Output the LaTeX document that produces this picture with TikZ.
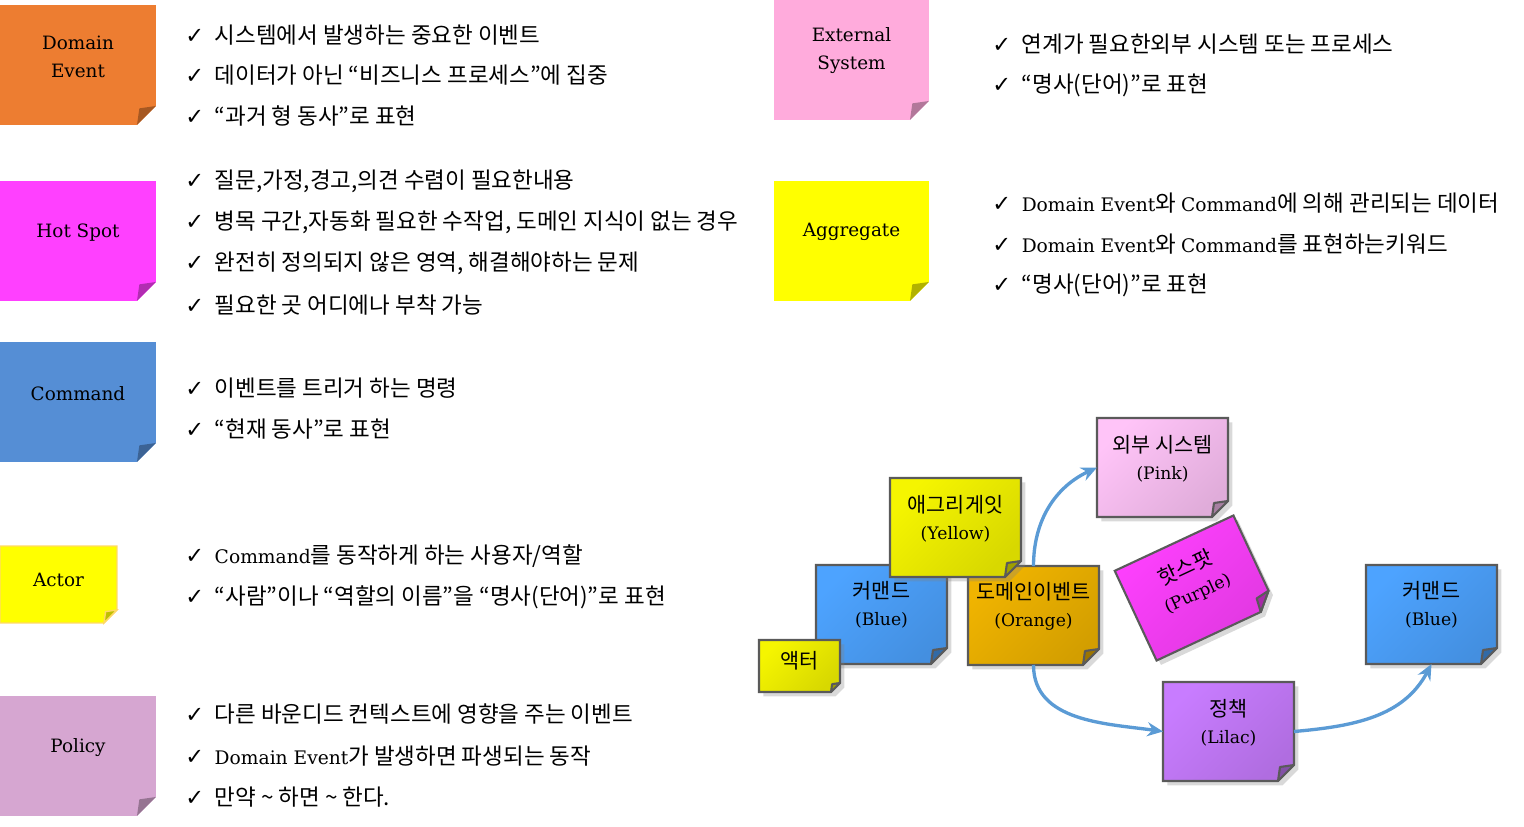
\documentclass[tikz,border=0pt]{standalone}
\usepackage{fontspec}
\setmainfont{Noto Sans CJK KR}
\newfontfamily\en[Scale=0.83]{DejaVu Serif}
\newfontfamily\sym{DejaVu Sans}
\usetikzlibrary{arrows.meta, positioning, calc, shadows}
\definecolor{deorange}{RGB}{237, 125, 49}
\definecolor{hotmagenta}{RGB}{255, 64, 255}
\definecolor{cmdblue}{RGB}{85, 142, 213}
\definecolor{actyellow}{RGB}{255, 255, 0}
\definecolor{actline}{RGB}{255, 217, 102}
\definecolor{pollilac}{RGB}{214, 166, 209}
\definecolor{extpink}{RGB}{255, 171, 220}
\definecolor{lightpink}{RGB}{255, 196, 248}
\definecolor{stickyellow}{RGB}{245, 245, 0}
\definecolor{stickblue}{RGB}{77, 163, 255}
\definecolor{stickorange}{RGB}{240, 180, 0}
\definecolor{sticklilac}{RGB}{200, 124, 255}
\definecolor{noteline}{RGB}{90, 90, 90}
\definecolor{flowblue}{RGB}{91, 155, 213}

% 접힌 모서리 메모지: #1 노드, #2 색, #3 접힘 크기, #4 스타일
\newcommand\sticky[4]{%
  \coordinate (#1-a) at ($(#1.south east)!#3!(#1.north east)$);
  \coordinate (#1-b) at ($(#1.south east)!#3!(#1.south west)$);
  \coordinate (#1-m) at ($(#1-a)!0.5!(#1-b)$);
  \coordinate (#1-c) at ($(#1-m)!-0.75!(#1.south east)$);
  \path[#4=#2] (#1.north west) -- (#1.north east) -- (#1-a) -- (#1-b) -- (#1.south west) -- cycle;
  \path[#4 fold=#2] (#1-a) -- (#1-c) -- (#1-b) -- cycle;
}
\newcommand\chk{{\sym ✓}\hspace{6pt}}

\begin{document}
\begin{tikzpicture}[x=0.02cm, y=-0.02cm,
  card/.style={minimum width=2.62cm, minimum height=1.98cm, inner sep=0, outer sep=0},
  bigcard/.style={card, minimum width=3.12cm, minimum height=2.4cm},
  flatcard/.style={fill=#1},
  flatcard fold/.style={fill=#1!70!black},
  linecard/.style={fill=#1, draw=actline, line width=0.8pt},
  linecard fold/.style={fill=#1!75!black, draw=actline, line width=0.8pt},
  framecard/.style={draw=noteline, line width=1.2pt,
    drop shadow={shadow xshift=2.5pt, shadow yshift=-2.5pt, opacity=0.3},
    top color=#1, middle color=#1, bottom color=#1!88!black, shading angle=45},
  framecard fold/.style={fill=#1!65!black, draw=noteline, line width=1.2pt, line join=round},
  lbl/.style={font=\fontsize{12.6}{16}\selectfont\en, align=center, inner sep=0},
  dlbl/.style={font=\fontsize{11.8}{15.3}\selectfont, align=center, inner sep=0},
  item/.style={anchor=west, inner sep=0, font=\fontsize{12.8}{14}\selectfont},
  flow/.style={draw=flowblue, line width=1.9pt, -{Stealth[length=9pt, width=8pt, inset=3pt]}}]
  \useasboundingbox (0,0) rectangle (1524,827);

  % 왼쪽 범례
  \node[bigcard] (de) at (78,65) {};
  \sticky{de}{deorange}{0.38cm}{flatcard}
  \node[lbl] (de-txt) at ($(de.center)!0.16cm!(de.north)$) {Domain\\Event};
  \node[item] (de1) at (185,35) {\chk 시스템에서 발생하는 중요한 이벤트};
  \node[item] (de2) at (185,75) {\chk 데이터가 아닌 “비즈니스 프로세스”에 집중};
  \node[item] (de3) at (185,116) {\chk “과거 형 동사”로 표현};

  \node[bigcard] (hs) at (78,241) {};
  \sticky{hs}{hotmagenta}{0.38cm}{flatcard}
  \node[lbl] (hs-txt) at ($(hs.center)!0.16cm!(hs.north)$) {Hot Spot};
  \node[item] (hs1) at (185,181) {\chk 질문,가정,경고,의견 수렴이 필요한내용};
  \node[item] (hs2) at (185,222) {\chk 병목 구간,자동화 필요한 수작업, 도메인 지식이 없는 경우};
  \node[item] (hs3) at (185,263) {\chk 완전히 정의되지 않은 영역, 해결해야하는 문제};
  \node[item] (hs4) at (185,305) {\chk 필요한 곳 어디에나 부착 가능};

  \node[bigcard] (cm) at (78,402) {};
  \sticky{cm}{cmdblue}{0.38cm}{flatcard}
  \node[lbl] (cm-txt) at ($(cm.center)!0.16cm!(cm.north)$) {Command};
  \node[item] (cm1) at (185,388) {\chk 이벤트를 트리거 하는 명령};
  \node[item] (cm2) at (185,429) {\chk “현재 동사”로 표현};

  \node[card, minimum width=2.34cm, minimum height=1.54cm] (ac) at (58.5,584.5) {};
  \sticky{ac}{actyellow}{0.26cm}{linecard}
  \node[lbl] (ac-txt) at ($(ac.center)!0.1cm!(ac.north)$) {Actor};
  \node[item] (ac1) at (185,556) {\chk {\en Command}를 동작하게 하는 사용자/역할};
  \node[item] (ac2) at (185,597) {\chk “사람”이나 “역할의 이름”을 “명사(단어)”로 표현};

  \node[bigcard] (po) at (78,756) {};
  \sticky{po}{pollilac}{0.38cm}{flatcard}
  \node[lbl] (po-txt) at ($(po.center)!0.16cm!(po.north)$) {Policy};
  \node[item] (po1) at (185,714) {\chk 다른 바운디드 컨텍스트에 영향을 주는 이벤트};
  \node[item] (po2) at (185,756) {\chk {\en Domain Event}가 발생하면 파생되는 동작};
  \node[item] (po3) at (185,797) {\chk 만약 \textasciitilde{} 하면 \textasciitilde{} 한다.};

  % 오른쪽 범례
  \node[bigcard, minimum width=3.1cm] (ex) at (851.5,60) {};
  \sticky{ex}{extpink}{0.38cm}{flatcard}
  \node[lbl] (ex-txt) at ($(ex.center)!0.18cm!(ex.north)$) {External\\System};
  \node[item] (ex1) at (992,44) {\chk 연계가 필요한외부 시스템 또는 프로세스};
  \node[item] (ex2) at (992,85) {\chk “명사(단어)”로 표현};

  \node[bigcard, minimum width=3.1cm] (ag) at (851.5,241) {};
  \sticky{ag}{actyellow}{0.38cm}{flatcard}
  \node[lbl] (ag-txt) at ($(ag.center)!0.18cm!(ag.north)$) {Aggregate};
  \node[item] (ag1) at (992,203) {\chk {\en Domain Event}와 {\en Command}에 의해 관리되는 데이터};
  \node[item] (ag2) at (992,244) {\chk {\en Domain Event}와 {\en Command}를 표현하는키워드};
  \node[item] (ag3) at (992,285) {\chk “명사(단어)”로 표현};

  % 예시 보드
  \node[card] (cb1) at (881.5,614.5) {};
  \sticky{cb1}{stickblue}{0.32cm}{framecard}
  \node[dlbl] (cb1-txt) at ($(cb1.center)!0.19cm!(cb1.north)$) {커맨드\\\en (Blue)};

  \node[card] (ev) at (1033.5,615.5) {};
  \sticky{ev}{stickorange}{0.32cm}{framecard}
  \node[dlbl] (ev-txt) at ($(ev.center)!0.19cm!(ev.north)$) {도메인이벤트\\\en (Orange)};

  \node[card] (ylw) at (955.5,527.5) {};
  \sticky{ylw}{stickyellow}{0.32cm}{framecard}
  \node[dlbl] (ylw-txt) at ($(ylw.center)!0.17cm!(ylw.north)$) {애그리게잇\\\en (Yellow)};

  \node[card, minimum width=1.62cm, minimum height=1.04cm] (ac2) at (799.5,666) {};
  \sticky{ac2}{stickyellow}{0.18cm}{framecard}
  \node[dlbl] (ac2-txt) at ($(ac2.center)!0.1cm!(ac2.north)$) {액터};

  \node[card] (pnk) at (1162.5,467.5) {};
  \sticky{pnk}{lightpink}{0.32cm}{framecard}
  \node[dlbl] (pnk-txt) at ($(pnk.center)!0.17cm!(pnk.north)$) {외부 시스템\\\en (Pink)};

  \node[card, rotate=25] (hot) at (1195,588) {};
  \sticky{hot}{hotmagenta}{0.32cm}{framecard}
  \node[dlbl, rotate=25] (hot-txt) at ($(hot.center)!0.17cm!(hot.north)$) {핫스팟\\\en (Purple)};

  \node[card] (pol) at (1228.5,731.5) {};
  \sticky{pol}{sticklilac}{0.32cm}{framecard}
  \node[dlbl] (pol-txt) at ($(pol.center)!0.17cm!(pol.north)$) {정책\\\en (Lilac)};

  \node[card] (cb2) at (1431.5,614.5) {};
  \sticky{cb2}{stickblue}{0.32cm}{framecard}
  \node[dlbl] (cb2-txt) at ($(cb2.center)!0.19cm!(cb2.north)$) {커맨드\\\en (Blue)};

  % 흐름
  \draw[flow] (ev.north) to[out=90, in=205] (pnk.west);
  \draw[flow] (ev.south) to[out=-90, in=172] (pol.west);
  \draw[flow] (pol.east) to[out=5, in=-118] (cb2.south);
\end{tikzpicture}
\end{document}
